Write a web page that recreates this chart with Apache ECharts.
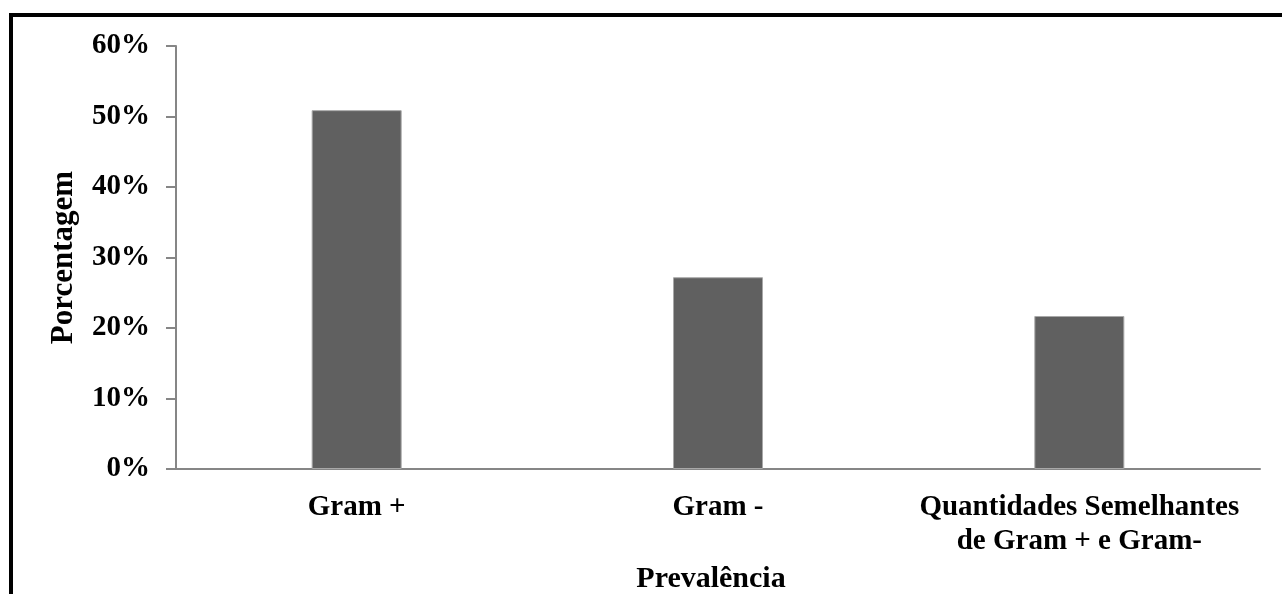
<!DOCTYPE html>
<html>
<head>
<meta charset="utf-8">
<script src="https://cdn.jsdelivr.net/npm/echarts@6/dist/echarts.min.js"></script>
<style>
html,body{margin:0;padding:0;background:#fff;}
#chart{width:1282px;height:594px;}
</style>
</head>
<body>
<div id="chart"></div>
<script>
const categories = ['Gram +', 'Gram -', 'Quantidades Semelhantes\nde Gram + e Gram-'];
const values = [50.9, 27.2, 21.7];
const yTicks = [0, 10, 20, 30, 40, 50, 60];
const yAxisName = 'Porcentagem';
const xAxisName = 'Prevalência';

const font = '"Liberation Serif", "DejaVu Serif", serif';
const chart = echarts.init(document.getElementById('chart'), null, {renderer: 'canvas'});
chart.setOption({
  animation: false,
  backgroundColor: '#ffffff',
  graphic: [
    {type: 'rect', shape: {x: 9, y: 13, width: 4, height: 600}, style: {fill: '#000'}},
    {type: 'rect', shape: {x: 9, y: 13, width: 1290, height: 4}, style: {fill: '#000'}}
  ],
  grid: {left: 176, right: 22, top: 46, bottom: 125, containLabel: false, outerBoundsMode: 'none'},
  xAxis: {
    type: 'category',
    data: categories,
    name: xAxisName,
    nameLocation: 'middle',
    nameGap: 95,
    nameTextStyle: {fontFamily: font, fontWeight: 'bold', fontSize: 30, color: '#000', padding: [0, 14, 0, 0]},
    axisLine: {lineStyle: {color: '#868686', width: 2}},
    axisTick: {show: false},
    axisLabel: {fontFamily: font, fontWeight: 'bold', fontSize: 29, color: '#000', margin: 22, lineHeight: 34, interval: 0}
  },
  yAxis: {
    type: 'value',
    min: yTicks[0],
    max: yTicks[yTicks.length - 1],
    interval: 10,
    name: yAxisName,
    nameLocation: 'middle',
    nameGap: 97,
    nameRotate: 90,
    nameTextStyle: {fontFamily: font, fontWeight: 'bold', fontSize: 31, color: '#000'},
    axisLine: {show: true, lineStyle: {color: '#868686', width: 2}},
    axisTick: {show: true, length: 10, inside: false, lineStyle: {color: '#868686', width: 2}},
    splitLine: {show: false},
    axisLabel: {fontFamily: font, fontWeight: 'bold', fontSize: 29, color: '#000', margin: 26, padding: [6, 0, 0, 0], formatter: v => v + '%'}
  },
  series: [{
    type: 'bar',
    data: values,
    barWidth: 90,
    itemStyle: {color: '#606060', borderColor: '#a8a8a8', borderWidth: 1}
  }]
});
</script>
</body>
</html>
